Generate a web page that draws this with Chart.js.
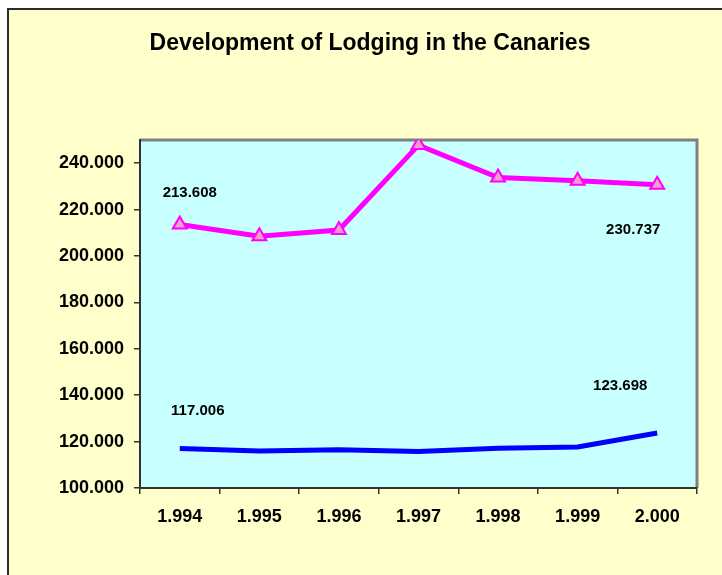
<!DOCTYPE html>
<html>
<head>
<meta charset="utf-8">
<script src="https://cdn.jsdelivr.net/npm/chart.js@4"></script>
<style>
  html, body { margin:0; padding:0; background:#fff; }
  #wrap { width:722px; height:575px; }
</style>
</head>
<body>
<div id="wrap"><canvas id="lodging-chart" width="722" height="575"></canvas></div>
<script>
// data
const years      = ['1.994','1.995','1.996','1.997','1.998','1.999','2.000'];
const apartments = [213608, 208500, 211200, 247800, 233800, 232400, 230737];
const hotels     = [117006, 115900, 116500, 115700, 117100, 117650, 123698];
const yTicks     = [100000, 120000, 140000, 160000, 180000, 200000, 220000, 240000];
const yMin = 100000, yMax = 250000;
const TITLE = 'Development of Lodging in the Canaries';

const FONT = "'Liberation Sans', Arial, sans-serif";
const fmt = v => Math.round(v).toString().replace(/\B(?=(\d{3})+(?!\d))/g, '.');

// where the end labels sit relative to their point (first / last)
const labelOffsets = [
  [{dx:10, dy:-27}, {dx:-24, dy:49}],
  [{dx:18, dy:-34}, {dx:-37, dy:-43}]
];

const framePlugin = {
  id: 'frame',
  beforeDraw(chart) {
    const { ctx, chartArea: a, width, height } = chart;
    ctx.save();
    ctx.fillStyle = '#fff';
    ctx.fillRect(0, 0, width, height);
    ctx.fillStyle = '#FFFFCC';
    ctx.fillRect(8, 9, width, height);
    ctx.strokeStyle = '#2b2b2b';
    ctx.lineWidth = 2;
    ctx.beginPath();
    ctx.moveTo(8, height + 2); ctx.lineTo(8, 9); ctx.lineTo(width + 2, 9);
    ctx.stroke();
    ctx.fillStyle = '#C8FFFF';
    ctx.fillRect(a.left, a.top, a.right - a.left, a.bottom - a.top);
    ctx.strokeStyle = '#808080';
    ctx.lineWidth = 3;
    ctx.beginPath();
    ctx.moveTo(a.left, a.top); ctx.lineTo(a.right, a.top); ctx.lineTo(a.right, a.bottom);
    ctx.stroke();
    ctx.fillStyle = '#000';
    ctx.font = 'bold 23px ' + FONT;
    ctx.textAlign = 'center';
    ctx.textBaseline = 'alphabetic';
    ctx.fillText(TITLE, 370, 50);
    ctx.restore();
  },
  afterDatasetsDraw(chart) {
    const { ctx } = chart;
    ctx.save();
    ctx.fillStyle = '#000';
    ctx.font = 'bold 15px ' + FONT;
    ctx.textAlign = 'center';
    ctx.textBaseline = 'alphabetic';
    chart.data.datasets.forEach((ds, i) => {
      const pts = chart.getDatasetMeta(i).data;
      const ends = [0, pts.length - 1];
      ends.forEach((idx, k) => {
        const o = labelOffsets[i][k];
        ctx.fillText(fmt(ds.data[idx]), pts[idx].x + o.dx, pts[idx].y + o.dy);
      });
    });
    ctx.restore();
  }
};

new Chart(document.getElementById('lodging-chart'), {
  type: 'line',
  data: {
    labels: years,
    datasets: [
      { label: 'Apartments', data: apartments, borderColor: '#FF00FF', borderWidth: 5,
        pointStyle: 'triangle', pointRadius: 8, pointBackgroundColor: '#F59CCB',
        pointBorderColor: '#FF00FF', pointBorderWidth: 2, tension: 0 },
      { label: 'Hotels', data: hotels, borderColor: '#0000FF', borderWidth: 5,
        pointRadius: 0, tension: 0 }
    ]
  },
  options: {
    responsive: false,
    animation: false,
    layout: { padding: { top: 140, right: 25, left: 0, bottom: 0 } },
    plugins: { legend: { display: false }, title: { display: false }, tooltip: { enabled: false } },
    scales: {
      x: {
        offset: true,
        afterFit: s => { s.height = 87; },
        grid: { offset: true, drawOnChartArea: false, drawTicks: true, tickLength: 6, color: '#333', lineWidth: 1.5 },
        border: { display: true, color: '#333', width: 2 },
        ticks: { color: '#000', padding: 12, font: { family: FONT, size: 18, weight: 'bold' } }
      },
      y: {
        min: yMin, max: yMax,
        afterFit: s => { s.width = 140; },
        afterBuildTicks: s => { s.ticks = yTicks.map(v => ({ value: v })); },
        grid: { drawOnChartArea: false, drawTicks: true, tickLength: 6, color: '#333', lineWidth: 1.5 },
        border: { display: true, color: '#333', width: 2 },
        ticks: { color: '#000', padding: 10,
                 font: { family: FONT, size: 18, weight: 'bold' },
                 callback: v => fmt(v) }
      }
    }
  },
  plugins: [framePlugin]
});
</script>
</body>
</html>
